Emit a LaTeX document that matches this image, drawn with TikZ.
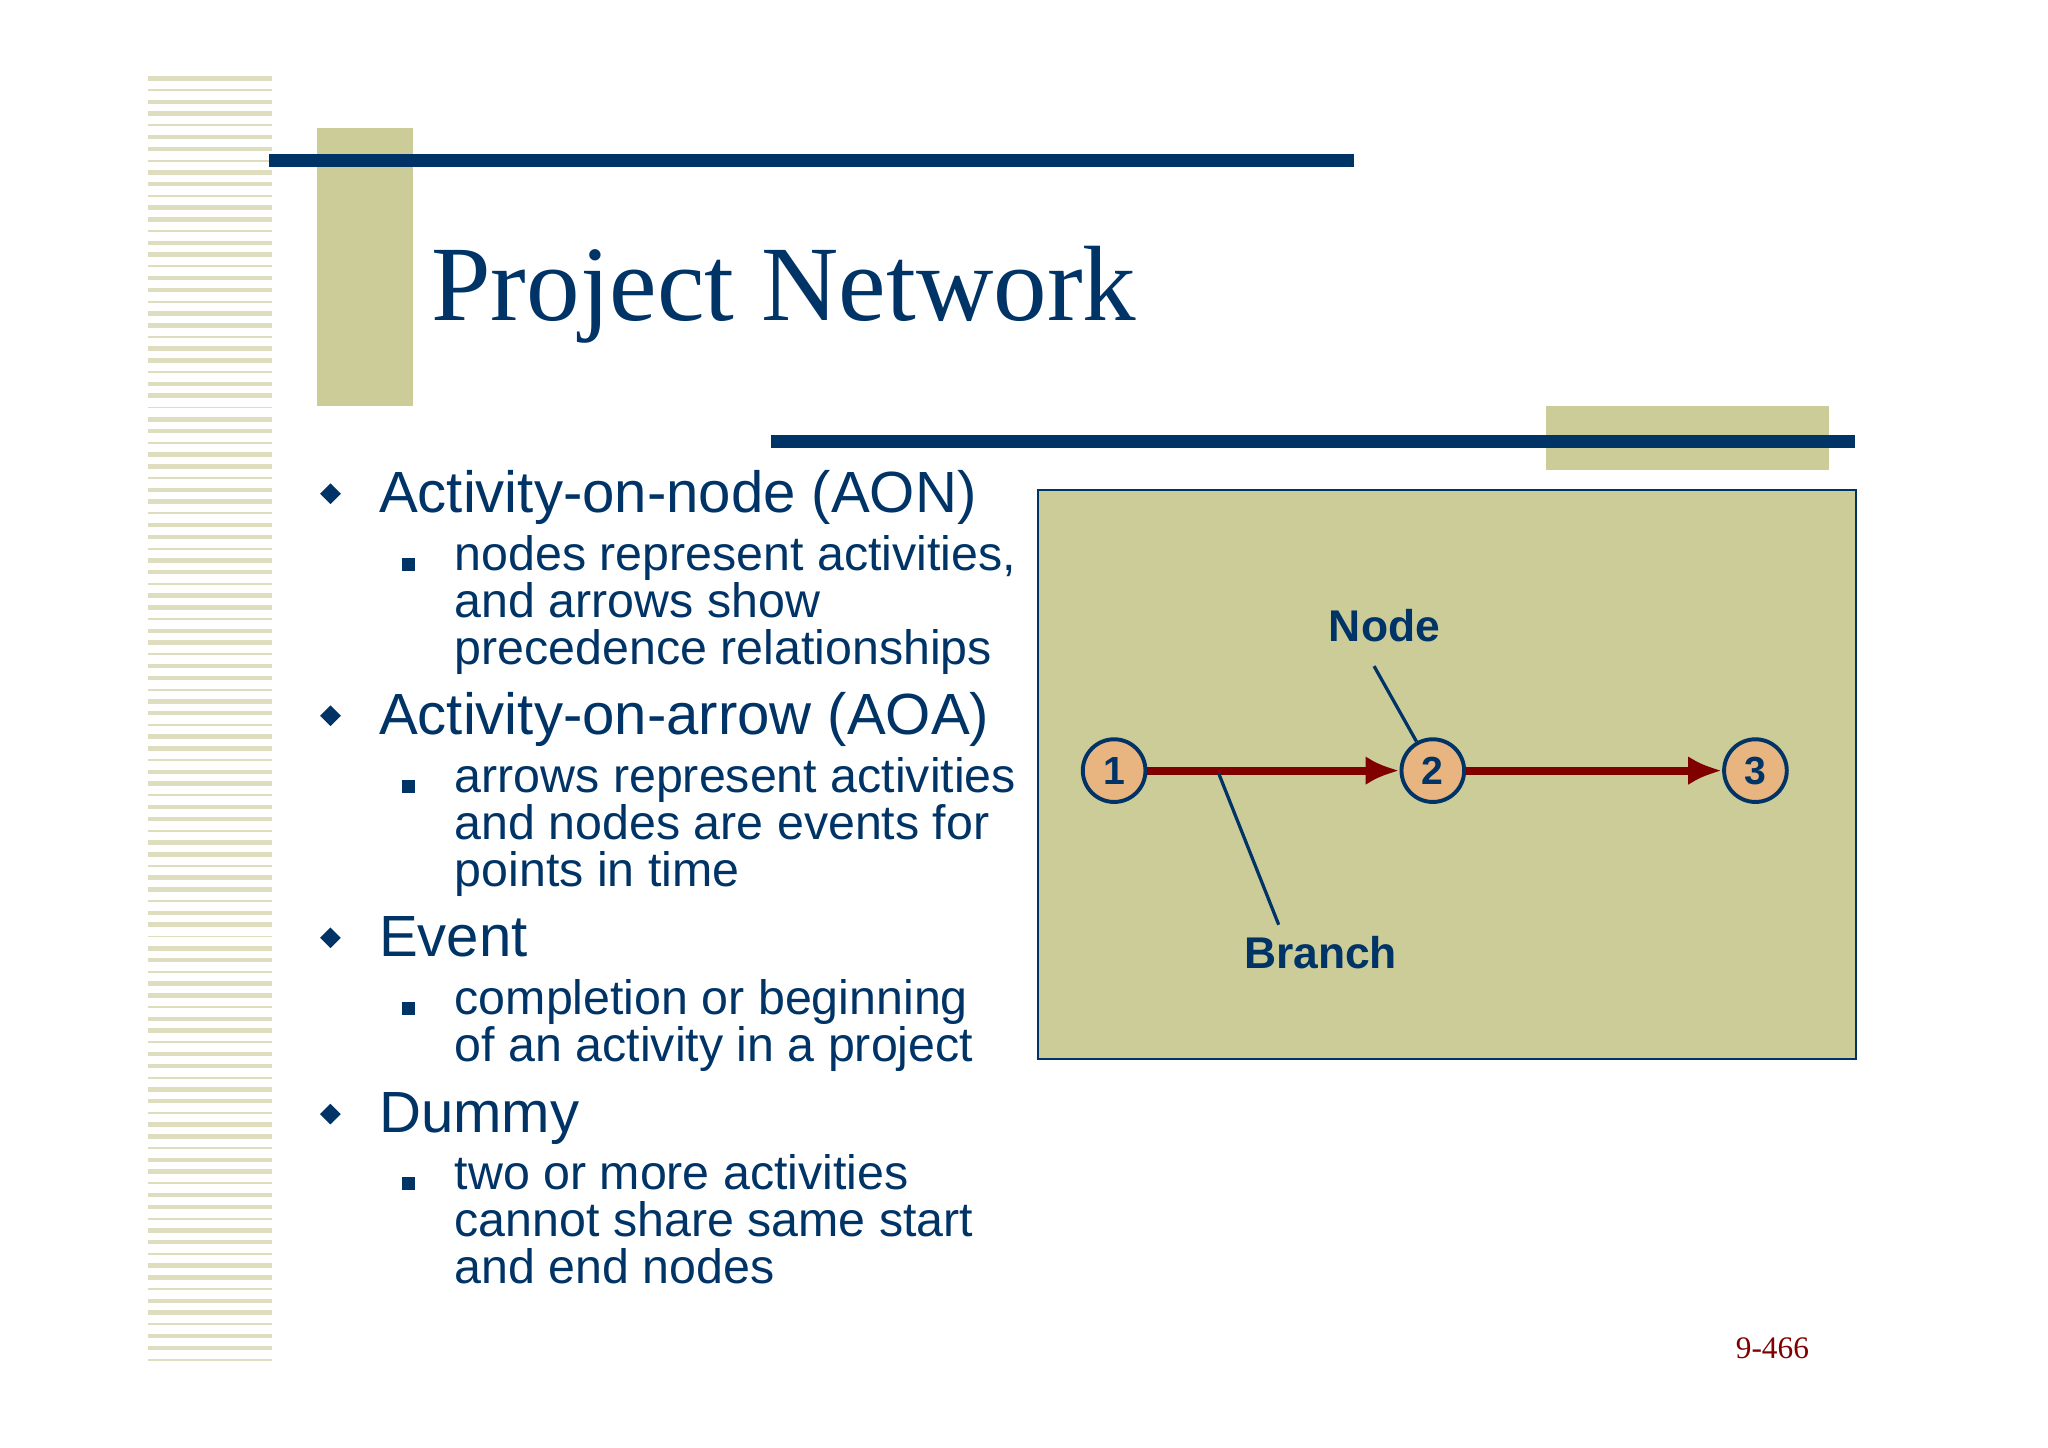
\documentclass[tikz,border=0pt]{standalone}
\usepackage{fontspec}
\setmainfont{Liberation Sans}
\newfontfamily\serifx{Liberation Serif}
\usetikzlibrary{arrows.meta,shapes.geometric}
\definecolor{navy}{RGB}{0,51,102}
\definecolor{olive}{RGB}{204,204,153}
\definecolor{paleol}{RGB}{222,222,190}
\definecolor{tan}{RGB}{232,180,128}
\definecolor{dred}{RGB}{128,0,0}
\tikzset{
 ev/.style={circle,draw=navy,line width=3pt,fill=tan,minimum size=48pt,inner sep=0pt,font=\fontsize{30}{30}\selectfont\bfseries,text=navy},
 br/.style={draw=dred,line width=6pt,-{Latex[length=26pt,width=22pt]}},
 lab/.style={font=\fontsize{34}{34}\selectfont\bfseries,text=navy},
 mainb/.style={anchor=base west,inner sep=0pt,font=\fontsize{44.5}{44.5}\selectfont,text=navy},
 subb/.style={anchor=north west,align=left,font=\fontsize{37}{36}\selectfont,text=navy,inner sep=0pt},
}
\begin{document}
\begin{tikzpicture}[x=1pt,y=-1pt]
\useasboundingbox[fill=white] (0,0) rectangle (1568,1108);
% striped bar
\foreach \i in {0,...,109}{
  \pgfmathsetmacro\yy{60+\i*9}
  \pgfmathsetmacro\w{mod(\i,3)==1 ? 1.5 : 3.5}
  \draw[paleol,line width=\w pt] (113,\yy) -- (208,\yy);
}
\fill[olive] (243,98) rectangle (316,311);
\draw[navy,line width=10pt] (206,123) -- (1037,123);
\node[anchor=base west,inner sep=0pt,text=navy,font=\serifx\fontsize{82}{82}\selectfont] (title) at (330,245) {Project Network};
\fill[olive] (1184,311) rectangle (1400,360);
\draw[navy,line width=10pt] (590,338) -- (1420,338);
% diagram
\draw[navy,line width=1.5pt,fill=olive] (795,375) rectangle (1421,811);
\node[ev] (n1) at (853,590) {1};
\node[ev] (n2) at (1097,590) {2};
\node[ev] (n3) at (1344,590) {3};
\draw[br] (n1) -- (n2);
\draw[br] (n2) -- (n3);
\node[lab] (node) at (1060,479) {Node};
\node[lab] (branch) at (1011,729) {Branch};
\coordinate (nb) at (1052,510);
\coordinate (bb) at (979,708);
\coordinate (bt) at (933,592);
\draw[navy,line width=2.5pt] (nb) -- (n2);
\draw[navy,line width=2.5pt] (bt) -- (bb);
% bullets
\foreach \y/\t in {392/Activity-on-node (AON),562/Activity-on-arrow (AOA),732/Event,867/Dummy}{
  \node[fill=navy,diamond,inner sep=0pt,minimum size=16pt,draw=none] at (253,\y-14) {};
  \node[mainb] at (290,\y) {\t};
}
\foreach \y/\t in {410/{nodes represent activities,\\and arrows show\\precedence relationships},
                   580/{arrows represent activities\\and nodes are events for\\points in time},
                   750/{completion or beginning\\of an activity in a project},
                   884/{two or more activities\\cannot share same start\\and end nodes}}{
  \fill[navy] (308,\y+17) rectangle (318,\y+27);
  \node[subb] at (348,\y) {\t};
}
\node[anchor=base,text=dred,font=\serifx\fontsize{24}{24}\selectfont] (pg) at (1357,1040) {9-466};
\end{tikzpicture}
\end{document}
